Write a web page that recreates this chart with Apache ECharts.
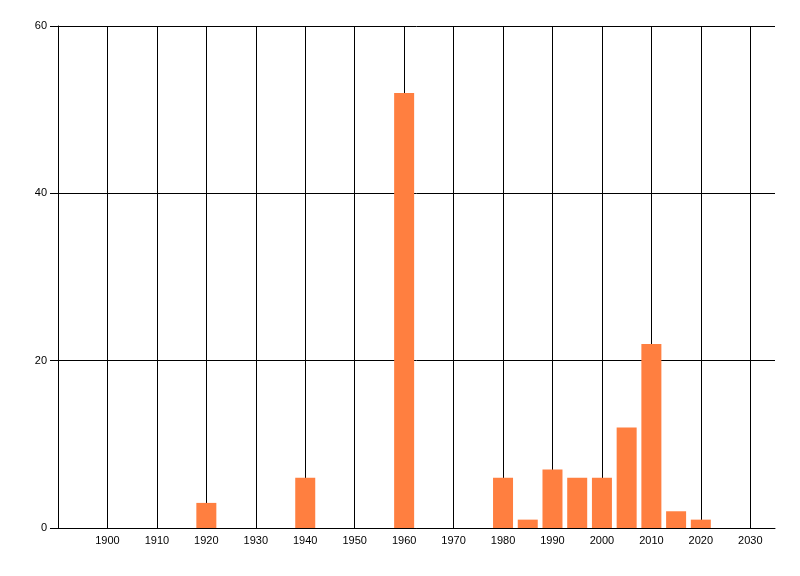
<!DOCTYPE html>
<html>
<head>
<meta charset="utf-8">
<script src="https://cdn.jsdelivr.net/npm/echarts@6/dist/echarts.min.js"></script>
<style>
	html, body { margin: 0; padding: 0; background: #fff; }
	#container { width: 800px; height: 576px; }
</style>
</head>
<body>
<div id="container"></div>
<script>
// years (bar centres) and counts
var years = [1920, 1940, 1960, 1980, 1985, 1990, 1995, 2000, 2005, 2010, 2015, 2020];
var counts = [3, 6, 52, 6, 1, 7, 6, 6, 12, 22, 2, 1];
var yTicks = [0, 20, 40, 60];

function buildData() {
	let data = [];
	years.forEach((y, i) => {
		data = [...data, [y, counts[i]]];
	});
	return data;
}

function dibujar() {
	var dom = document.getElementById("container");
	var chart = echarts.init(dom);

	const lineStyle = { color: '#000', width: 1 };
	const labelFont = { color: '#000', fontSize: 11, fontFamily: 'Liberation Sans, Arial, sans-serif' };

	const option = {
		animation: false,
		grid: {
			left: 58,
			right: 25,
			top: 26,
			bottom: 48
		},
		xAxis: {
			type: 'value',
			min: 1890,
			max: 2035,
			interval: 10,
			axisLine: { show: true, lineStyle: lineStyle },
			axisTick: { show: false },
			axisLabel: Object.assign({
				margin: 7,
				showMinLabel: false,
				showMaxLabel: false,
				formatter: function (v) {
					return (v % 10 === 0 && v > 1890) ? String(v) : '';
				}
			}, labelFont),
			splitLine: {
				show: true,
				showMinLine: false,
				showMaxLine: false,
				lineStyle: lineStyle
			}
		},
		yAxis: {
			type: 'value',
			min: yTicks[0],
			max: yTicks[yTicks.length - 1],
			interval: 20,
			axisLine: { show: true, lineStyle: lineStyle },
			axisTick: { show: true, length: 8, inside: false, lineStyle: lineStyle },
			axisLabel: Object.assign({ margin: 11 }, labelFont),
			splitLine: { show: true, lineStyle: lineStyle }
		},
		series: [{
			type: 'bar',
			data: buildData(),
			barWidth: 20,
			itemStyle: { color: '#ff7f40' }
		}]
	};

	chart.setOption(option, true);
}

dibujar();
</script>
</body>
</html>
